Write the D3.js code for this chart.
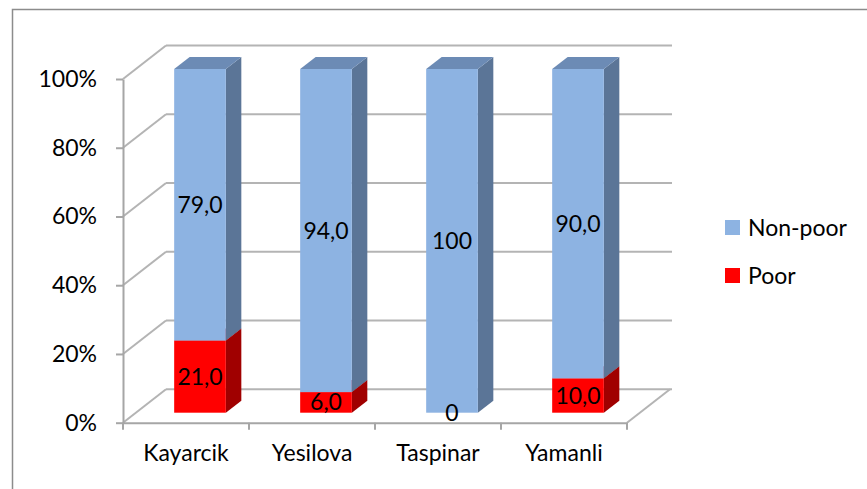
<!DOCTYPE html>
<html>
<head>
<meta charset="utf-8">
<script src="https://cdn.jsdelivr.net/npm/d3@7/dist/d3.min.js"></script>
<style>
  html, body { margin: 0; padding: 0; background: #fff; }
  svg { display: block; }
  text { font-family: Lato, "Open Sans", sans-serif; fill: #000; }
</style>
</head>
<body>
<svg id="chart" width="867" height="489"></svg>
<script>
const categories = ["Kayarcik", "Yesilova", "Taspinar", "Yamanli"];
const poorValues = [21, 6, 0, 10];
const nonPoorValues = [79, 94, 100, 90];
const poorLabels = ["21,0", "6,0", "0", "10,0"];
const nonPoorLabels = ["79,0", "94,0", "100", "90,0"];
const yTicks = [0, 20, 40, 60, 80, 100];
const seriesNames = ["Non-poor", "Poor"];

const colors = {
  "Non-poor": { front: "#8DB3E2", side: "#5B7597", top: "#6C8BB5" },
  "Poor": { front: "#FF0000", side: "#A00000", top: "#C00000" }
};

const svg = d3.select("#chart");
const FS = 23;

// outer border
svg.append("path")
  .attr("d", "M12.5,489 L12.5,9.5 L867,9.5")
  .attr("fill", "none").attr("stroke", "#8C8C8C").attr("stroke-width", 1.5);

// front plane scales
const x = d3.scaleBand().domain(categories).range([123, 627]);
const y = d3.scaleLinear().domain([0, 100]).range([422.7, 79]);
const depth = { dx: 43, dy: -33.5 };        // full depth of the chart box
const barOff = { dx: 14, dy: -10 };          // bar front offset from front plane
const barDepth = { dx: 15.5, dy: -12 };      // bar thickness
const barW = x.bandwidth() * 0.41;

const grid = svg.append("g");
const gridColor = "#B4B4B4";
// back wall gridlines + left wall diagonals
yTicks.forEach(t => {
  const yf = y(t);
  grid.append("line")
    .attr("x1", x.range()[0] + depth.dx).attr("x2", x.range()[1] + depth.dx + 2)
    .attr("y1", yf + depth.dy).attr("y2", yf + depth.dy)
    .attr("stroke", gridColor).attr("stroke-width", 2);
  grid.append("line")
    .attr("x1", x.range()[0]).attr("y1", yf)
    .attr("x2", x.range()[0] + depth.dx).attr("y2", yf + depth.dy)
    .attr("stroke", gridColor).attr("stroke-width", 2);
});
// floor right edge
grid.append("line")
  .attr("x1", x.range()[1]).attr("y1", y(0))
  .attr("x2", x.range()[1] + depth.dx).attr("y2", y(0) + depth.dy)
  .attr("stroke", gridColor).attr("stroke-width", 2);

// bars
const bars = svg.append("g");
function drawBox(cx, v0, v1, c) {
  const xl = cx - barW / 2 + barOff.dx, xr = cx + barW / 2 + barOff.dx;
  const yb = y(v0) + barOff.dy, yt = y(v1) + barOff.dy;
  const g = bars.append("g");
  g.append("path").attr("fill", c.side)
    .attr("d", `M${xr},${yt} L${xr + barDepth.dx},${yt + barDepth.dy} L${xr + barDepth.dx},${yb + barDepth.dy} L${xr},${yb} Z`);
  g.append("path").attr("fill", c.top)
    .attr("d", `M${xl},${yt} L${xl + barDepth.dx},${yt + barDepth.dy} L${xr + barDepth.dx},${yt + barDepth.dy} L${xr},${yt} Z`);
  g.append("rect").attr("fill", c.front)
    .attr("x", xl).attr("y", yt).attr("width", xr - xl).attr("height", Math.max(0, yb - yt));
}
categories.forEach((cat, i) => {
  const cx = x(cat) + x.bandwidth() / 2;
  if (poorValues[i] > 0) drawBox(cx, 0, poorValues[i], colors["Poor"]);
  drawBox(cx, poorValues[i], poorValues[i] + nonPoorValues[i], colors["Non-poor"]);
});

// front axes
const axisColor = "#A6A6A6";
const yAxis = svg.append("g").attr("transform", `translate(${x.range()[0]},0)`)
  .call(d3.axisLeft(y).tickValues(yTicks).tickFormat(d => d + "%").tickSize(7).tickSizeOuter(0).tickPadding(19));
yAxis.select(".domain").attr("stroke", axisColor).attr("stroke-width", 2);
yAxis.selectAll(".tick line").attr("stroke", axisColor).attr("stroke-width", 2);
yAxis.selectAll(".tick text").style("font-size", FS + "px").style("font-family", "Lato").attr("fill", "#000");

const xAxis = svg.append("g").attr("transform", `translate(0,${y(0)})`)
  .call(d3.axisBottom(x).tickSize(0).tickPadding(22).tickSizeOuter(0));
xAxis.select(".domain").attr("stroke", axisColor).attr("stroke-width", 2);
xAxis.selectAll(".tick text").style("font-size", FS + "px").style("font-family", "Lato").attr("fill", "#000");
const bounds = categories.map(c => x(c)).concat([x.range()[1]]);
xAxis.selectAll("line.bt").data(bounds).enter().append("line").attr("class", "bt")
  .attr("x1", d => d).attr("x2", d => d).attr("y1", 0).attr("y2", 7)
  .attr("stroke", axisColor).attr("stroke-width", 2);

// data labels
const labels = svg.append("g").style("font-size", FS + "px");
categories.forEach((cat, i) => {
  const cx = x(cat) + x.bandwidth() / 2 + barOff.dx;
  const p = poorValues[i], n = nonPoorValues[i];
  labels.append("text").attr("x", cx).attr("y", (y(0) + y(p)) / 2 + barOff.dy)
    .attr("text-anchor", "middle").attr("dy", "0.35em").text(poorLabels[i]);
  labels.append("text").attr("x", cx).attr("y", (y(p) + y(p + n)) / 2 + barOff.dy)
    .attr("text-anchor", "middle").attr("dy", "0.35em").text(nonPoorLabels[i]);
});

// legend
const legend = svg.append("g").attr("transform", "translate(725,220)");
seriesNames.forEach((s, i) => {
  const g = legend.append("g").attr("transform", `translate(0,${i * 48})`);
  g.append("rect").attr("width", 15).attr("height", 15).attr("fill", colors[s].front);
  g.append("text").attr("x", 23).attr("y", 7.5).attr("dy", "0.36em")
    .style("font-size", FS + "px").text(s);
});
</script>
</body>
</html>
